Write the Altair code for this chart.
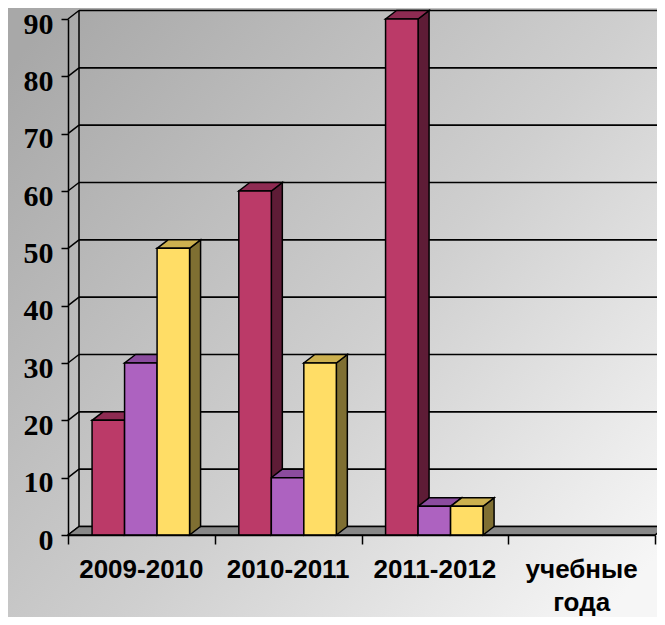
import altair as alt
import pandas as pd

# ---- data ----
categories = ["2009-2010", "2010-2011", "2011-2012", "учебные\nгода"]
series_a = [20, 60, 90]   # crimson
series_b = [30, 10, 5]    # purple
series_c = [50, 30, 5]    # yellow
y_ticks = [0, 10, 20, 30, 40, 50, 60, 70, 80, 90]

front_colors = ["#BB3A68", "#AD62C0", "#FFDD66"]
top_colors = ["#8E2B52", "#8B4C9E", "#CCB04F"]
side_colors = ["#5E1C36", "#5A3366", "#7F6F32"]

# ---- layout constants (in scale units) ----
W, H = 587, 516
N_CAT = len(categories)
DX = 11 / (W / N_CAT)      # depth offset along x, category units
DY = 8.5 / (H / 90)        # depth offset along y, value units
BAR_W = 0.2215
BAR_START = 0.164

series = [series_a, series_b, series_c]

fronts, sides, tops = [], [], []
for j, vals in enumerate(series):
    for i, v in enumerate(vals):
        bid = f"{i}-{j}"
        x0 = i + BAR_START + j * BAR_W
        x1 = x0 + BAR_W
        fronts.append({"x0": x0, "x1": x1, "b": 0, "v": v, "col": front_colors[j], "bar": bid})
        sides.append({"x": x1, "y": v, "y2": 0, "col": side_colors[j], "bar": bid})
        sides.append({"x": x1 + DX, "y": v + DY, "y2": DY, "col": side_colors[j], "bar": bid})
        tops.append({"y": v, "x": x0, "x2": x1, "col": top_colors[j], "bar": bid})
        tops.append({"y": v + DY, "x": x0 + DX, "x2": x1 + DX, "col": top_colors[j], "bar": bid})

fronts = pd.DataFrame(fronts)
sides = pd.DataFrame(sides)
tops = pd.DataFrame(tops)

grid = pd.DataFrame({"xa": [DX] * len(y_ticks), "xb": [N_CAT + DX] * len(y_ticks),
                     "yv": [t + DY for t in y_ticks]})
diag = pd.DataFrame([r for t in y_ticks for r in
                     ({"x": 0, "y": t, "id": t}, {"x": DX, "y": t + DY, "id": t})])
wall = pd.DataFrame({"x": [DX], "y": [DY], "y2": [max(y_ticks) + DY]})
floor = pd.DataFrame({"y": [0, DY], "x": [0, DX], "x2": [N_CAT, N_CAT + DX]})
labels = pd.DataFrame({"xc": [i + 0.5 for i in range(N_CAT)], "yc": [0] * N_CAT, "cat": categories})

xs = alt.Scale(domain=[0, N_CAT], nice=False, zero=False)
ys = alt.Scale(domain=[0, 90], nice=False)

x_axis = alt.Axis(values=list(range(N_CAT + 1)), labels=False, title=None, grid=False,
                  domainColor="black", domainWidth=1.5, tickColor="black", tickWidth=1.5,
                  tickSize=9, zindex=1)
y_axis = alt.Axis(values=y_ticks, title=None, grid=False, domainColor="black", domainWidth=1.5,
                  tickColor="black", tickWidth=1.5, tickSize=7, labelFont="Liberation Serif",
                  labelFontWeight="bold", labelFontSize=30, labelColor="black", labelPadding=8,
                  labelOffset=5, zindex=1)

bg = alt.Chart(alt.Data(values=[{}])).mark_rect(
    fill=alt.Gradient(gradient="linear", x1=0, y1=0.1, x2=1, y2=0.9,
                      stops=[alt.GradientStop(offset=0, color="#a8a8a8"),
                             alt.GradientStop(offset=0.55, color="#cfcfcf"),
                             alt.GradientStop(offset=1, color="#f6f6f6")])
).encode(x=alt.value(-60), x2=alt.value(W + 2), y=alt.value(-11), y2=alt.value(H + 82))

grid_l = alt.Chart(grid).mark_rule(color="black", strokeWidth=1.6).encode(
    x=alt.X("xa:Q", scale=xs, axis=x_axis), x2="xb",
    y=alt.Y("yv:Q", scale=ys, axis=y_axis))

wall_l = alt.Chart(wall).mark_rule(color="black", strokeWidth=1.5).encode(
    x=alt.X("x:Q", scale=xs, axis=x_axis), y=alt.Y("y:Q", scale=ys, axis=y_axis), y2="y2")

diag_l = alt.Chart(diag).mark_line(color="black", strokeWidth=1.5).encode(
    x=alt.X("x:Q", scale=xs, axis=x_axis), y=alt.Y("y:Q", scale=ys, axis=y_axis), detail="id:N")

floor_l = alt.Chart(floor).mark_area(orient="horizontal", fill="#888888", stroke="black",
                                     strokeWidth=1.5).encode(
    y=alt.Y("y:Q", scale=ys, axis=y_axis), x=alt.X("x:Q", scale=xs, axis=x_axis), x2="x2")

side_l = alt.Chart(sides).mark_area(orient="vertical", stroke="black", strokeWidth=1.5,
                                    strokeJoin="miter").encode(
    x=alt.X("x:Q", scale=xs, axis=x_axis), y=alt.Y("y:Q", scale=ys, axis=y_axis), y2="y2",
    fill=alt.Fill("col:N", scale=None), detail="bar:N")

top_l = alt.Chart(tops).mark_area(orient="horizontal", stroke="black", strokeWidth=1.5,
                                  strokeJoin="miter").encode(
    y=alt.Y("y:Q", scale=ys, axis=y_axis), x=alt.X("x:Q", scale=xs, axis=x_axis), x2="x2",
    fill=alt.Fill("col:N", scale=None), detail="bar:N")

front_l = alt.Chart(fronts).mark_rect(stroke="black", strokeWidth=1.5).encode(
    x=alt.X("x0:Q", scale=xs, axis=x_axis), x2="x1",
    y=alt.Y("b:Q", scale=ys, axis=y_axis), y2="v",
    fill=alt.Fill("col:N", scale=None))

text_l = alt.Chart(labels).mark_text(
    dy=22, baseline="top", align="center", font="Liberation Sans",
    fontWeight="bold", fontSize=26, lineBreak="\n", lineHeight=33, color="black"
).encode(x=alt.X("xc:Q", scale=xs, axis=x_axis), y=alt.Y("yc:Q", scale=ys, axis=y_axis),
         text="cat:N")

chart = alt.layer(bg, grid_l, wall_l, diag_l, floor_l, side_l, top_l, front_l, text_l).properties(
    width=W, height=H,
    padding={"left": 60, "top": 11, "right": 2, "bottom": 82},
    autosize=alt.AutoSizeParams(type="none"),
    background="#c4c4c4",
).configure_view(stroke=None)

chart.save("out.html", embed_options={"renderer": "svg", "actions": False})
